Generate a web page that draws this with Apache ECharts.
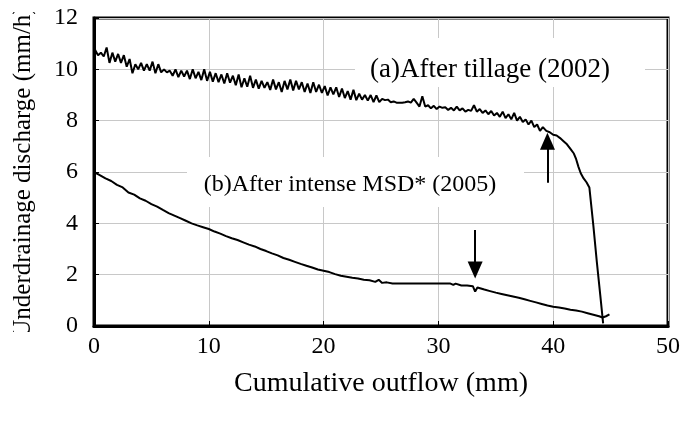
<!DOCTYPE html>
<html>
<head>
<meta charset="utf-8">
<script src="https://cdn.jsdelivr.net/npm/echarts@6/dist/echarts.min.js"></script>
<style>html,body{margin:0;padding:0;background:#fff}#c{width:689px;height:425px}</style>
</head>
<body>
<div id="c"></div>
<script>
// Series (a) After tillage (2002)
const aX = [
 0.1,0.35,0.6,0.85, 1.1,1.35,1.6,1.85, 2.1,2.35,2.6,2.85, 3.1,3.35,3.6,3.85,
 4.1,4.35,4.6,4.85, 5.1,5.35,5.6,5.85, 6.1,6.35,6.6,6.85, 7.1,7.35,7.6,7.85,
 8.1,8.35,8.6,8.85, 9.1,9.35,9.6,9.85, 10.1,10.35,10.6,10.85, 11.1,11.35,11.6,11.85,
 12.1,12.35,12.6,12.85, 13.1,13.35,13.6,13.85, 14.1,14.35,14.6,14.85, 15.1,15.35,15.6,15.85,
 16.1,16.35,16.6,16.85, 17.1,17.35,17.6,17.85, 18.1,18.35,18.6,18.85, 19.1,19.35,19.6,19.85,
 20.1,20.35,20.6,20.85, 21.1,21.35,21.6,21.85, 22.1,22.35,22.6,22.85, 23.1,23.35,23.6,23.85,
 24.1,24.35,24.6,24.85, 25.1,25.35,25.6,25.85, 26.1,26.35,26.6,26.85, 27.1,27.35,27.6,27.85,
 28.1,28.35,28.6,28.85, 29.1,29.35,29.6,29.85, 30.1,30.35,30.6,30.85, 31.1,31.35,31.6,31.85,
 32.1,32.35,32.6,32.85, 33.1,33.35,33.6,33.85, 34.1,34.35,34.6,34.85, 35.1,35.35,35.6,35.85,
 36.1,36.35,36.6,36.85, 37.1,37.35,37.6,37.85, 38.1,38.35,38.6,38.85, 39.1,39.4,39.7,40.0,
 40.3,40.6,40.9,41.2, 41.5,41.8,42.0,42.2, 42.4,42.65,42.9,43.15, 43.5,43.8,44.1,44.35
];
const aY = [
 10.75,10.55,10.65,10.5, 10.85,10.25,10.65,10.3, 10.6,10.25,10.55,10.1, 10.4,9.85,10.2,10.0,
 10.25,9.95,10.2,9.95, 10.3,9.85,10.2,9.88, 10.0,9.88,9.95,9.75, 10.0,9.7,9.95,9.72,
 9.95,9.62,10.0,9.65, 9.9,9.58,10.0,9.55, 9.9,9.52,9.85,9.5, 9.8,9.45,9.85,9.48,
 9.75,9.38,9.8,9.3, 9.65,9.32,9.75,9.28, 9.6,9.25,9.55,9.28, 9.5,9.2,9.6,9.22,
 9.5,9.12,9.55,9.22, 9.6,9.18,9.55,9.22, 9.5,9.12,9.45,9.08, 9.5,9.12,9.4,9.08,
 9.35,8.98,9.3,9.02, 9.3,8.92,9.25,8.88, 9.15,8.82,9.2,8.8, 9.05,8.82,9.0,8.78,
 9.0,8.72,8.98,8.72, 8.85,8.8,8.82,8.72, 8.75,8.7,8.7,8.7, 8.72,8.75,8.7,8.85,
 8.7,8.55,8.95,8.55, 8.6,8.48,8.58,8.45, 8.55,8.5,8.52,8.42, 8.5,8.4,8.55,8.4,
 8.48,8.35,8.42,8.38, 8.6,8.35,8.45,8.3, 8.4,8.25,8.38,8.2, 8.3,8.15,8.35,8.1,
 8.25,8.05,8.3,8.0, 8.15,7.95,8.05,7.85, 8.0,7.75,7.85,7.6, 7.75,7.6,7.55,7.45,
 7.42,7.32,7.2,7.08, 6.9,6.72,6.5,6.2, 5.95,5.75,5.6,5.4, 3.9,2.5,1.2,0.1
];
// Series (b) After intense MSD* (2005)
const bX = [
 0,0.5,1,1.5,2,2.5,3,3.5,4,4.5,5,5.5,6,6.5,7,7.5,8,8.5,9,9.5,
 10,10.5,11,11.5,12,12.5,13,13.5,14,14.5,15,15.5,16,16.5,17,17.5,18,18.5,19,19.5,
 20,20.5,21,21.5,22,22.5,23,23.5,24,24.5,24.8,25.1,25.5,26,27,28,29,30,31,31.3,
 31.5,32,32.5,33,33.2,33.4,34,34.5,35,35.5,36,36.5,37,37.5,38,38.5,39,39.5,40,40.5,
 41,41.5,42,42.5,43,43.5,44,44.3,44.6,44.9
];
const bY = [
 6.0,5.88,5.75,5.65,5.5,5.4,5.2,5.12,4.97,4.88,4.75,4.65,4.52,4.4,4.3,4.2,4.1,4.0,3.92,3.85,
 3.78,3.68,3.6,3.5,3.42,3.35,3.26,3.17,3.1,3.0,2.92,2.83,2.75,2.65,2.58,2.5,2.42,2.35,2.28,2.2,
 2.15,2.1,2.02,1.96,1.92,1.88,1.85,1.8,1.78,1.72,1.8,1.68,1.7,1.66,1.66,1.66,1.66,1.66,1.66,1.6,
 1.65,1.58,1.58,1.55,1.34,1.5,1.42,1.36,1.3,1.25,1.2,1.15,1.1,1.04,0.98,0.92,0.86,0.8,0.75,0.72,
 0.68,0.63,0.6,0.56,0.5,0.44,0.38,0.33,0.38,0.45
];
// Arrow annotations: [x, yStart, yEnd]
const arrowUp = [39.5, 5.58, 7.2];
const arrowDown = [33.2, 3.74, 2.18];

const xTitle = 'Cumulative outflow (mm)';
const yTitle = 'Underdrainage discharge (mm/h)';
const labelA = '(a)After tillage (2002)';
const labelB = '(b)After intense MSD* (2005)';

const zip = (xs, ys) => xs.map((x, i) => [x, ys[i]]);
const FONT = '"Liberation Serif", "Times New Roman", serif';

const chart = echarts.init(document.getElementById('c'), null, {renderer: 'canvas'});
const axisCommon = {
  axisLine: {show: true, lineStyle: {color: '#000', width: 3}},
  axisTick: {show: true, inside: true, length: 5, lineStyle: {color: '#000', width: 1}},
  splitLine: {show: true, lineStyle: {color: '#c8c8c8', width: 1}},
  axisLabel: {color: '#000', fontFamily: FONT, fontSize: 24}
};
chart.setOption({
  animation: false,
  backgroundColor: '#fff',
  grid: {left: 94, right: 21, top: 18, bottom: 99, show: true, borderColor: '#000', borderWidth: 3, backgroundColor: 'transparent'},
  xAxis: Object.assign({type: 'value', min: 0, max: 50, interval: 10,
    name: xTitle, nameLocation: 'middle', nameGap: 58,
    nameTextStyle: {color: '#000', fontFamily: FONT, fontSize: 28, verticalAlign: 'middle'}}, axisCommon,
    {axisLabel: Object.assign({}, axisCommon.axisLabel, {margin: 9})}),
  yAxis: Object.assign({type: 'value', min: 0, max: 12, interval: 2}, axisCommon,
    {axisLabel: Object.assign({}, axisCommon.axisLabel, {margin: 16})}),
  graphic: [
    {type: 'rect', z: 5, shape: {x: 355, y: 38, width: 290, height: 49}, style: {fill: '#fff'}},
    {type: 'rect', z: 5, shape: {x: 187, y: 157, width: 337, height: 50}, style: {fill: '#fff'}},
    {type: 'text', z: 6, x: 490, y: 70, style: {text: labelA, font: '27px ' + FONT, fill: '#000', textAlign: 'center', textVerticalAlign: 'middle'}},
    {type: 'text', z: 6, x: 350, y: 185, style: {text: labelB, font: '24px ' + FONT, fill: '#000', textAlign: 'center', textVerticalAlign: 'middle'}},
    {type: 'text', z: 6, x: 23, y: 172, rotation: Math.PI / 2, style: {text: yTitle, font: '25px ' + FONT, fill: '#000', textAlign: 'center', textVerticalAlign: 'middle'}},
    {type: 'rect', z: 7, shape: {x: 0, y: 0, width: 45, height: 12}, style: {fill: '#fff'}},
    {type: 'rect', z: 7, shape: {x: 0, y: 332, width: 45, height: 40}, style: {fill: '#fff'}}
  ],
  series: [
    {type: 'line', z: 10, data: zip(aX, aY), showSymbol: false, lineStyle: {color: '#000', width: 2}, itemStyle: {color: '#000'},
     markLine: {silent: true, symbol: ['none', 'triangle'], symbolSize: [15, 17], label: {show: false},
       lineStyle: {color: '#000', width: 2, type: 'solid'},
       data: [[{coord: [arrowUp[0], arrowUp[1]]}, {coord: [arrowUp[0], arrowUp[2]]}],
              [{coord: [arrowDown[0], arrowDown[1]]}, {coord: [arrowDown[0], arrowDown[2]]}]]}},
    {type: 'line', z: 10, data: zip(bX, bY), showSymbol: false, lineStyle: {color: '#000', width: 2}, itemStyle: {color: '#000'}}
  ]
});
</script>
</body>
</html>
